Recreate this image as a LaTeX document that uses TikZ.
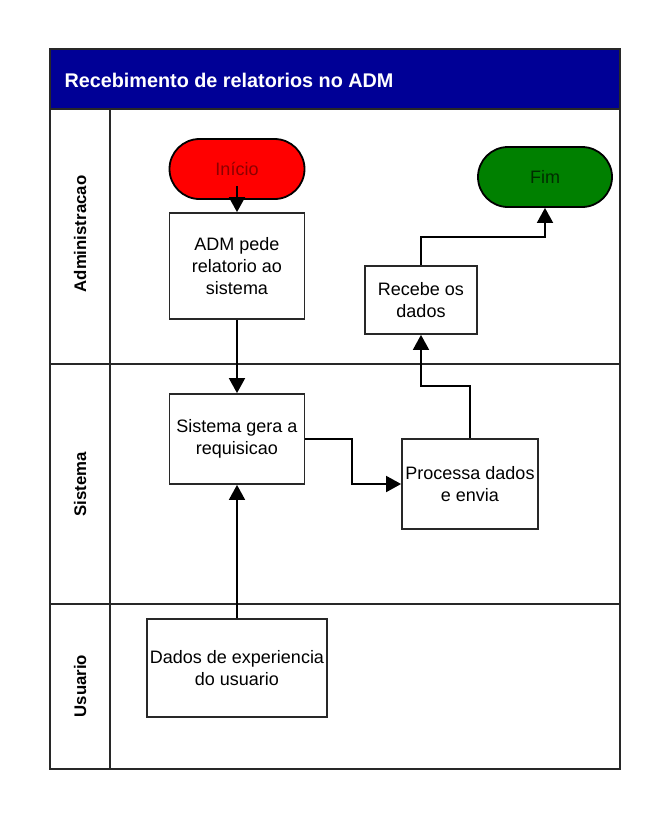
\documentclass[tikz,border=0pt]{standalone}
\usepackage{fontspec}
\setmainfont{Liberation Sans}
\usetikzlibrary{arrows.meta,shapes.misc}
\definecolor{titleblue}{RGB}{0,0,150}
\definecolor{frameline}{RGB}{40,40,40}
\definecolor{startred}{RGB}{255,0,0}
\definecolor{starttext}{RGB}{140,0,0}
\definecolor{endgreen}{RGB}{0,128,0}
\definecolor{endtext}{RGB}{0,45,0}
\begin{document}
\begin{tikzpicture}[x=1pt,y=-1pt,
  lane/.style={draw=frameline,line width=1.8pt},
  lanelabel/.style={rotate=90,font=\bfseries\fontsize{16.8}{19}\selectfont},
  procbox/.style={draw=frameline,line width=1.8pt,fill=white,align=center,
    inner sep=0pt,font=\fontsize{18}{22}\selectfont},
  terminal/.style={draw=black,line width=1.8pt,rounded rectangle,
    minimum width=135pt,minimum height=60pt,inner sep=0pt,
    font=\fontsize{18}{22}\selectfont},
  flow/.style={line width=1.8pt,draw=black,
    -{Triangle[length=15pt,width=16pt]}}]
\useasboundingbox (0,0) rectangle (670,820);
\fill[white] (0,0) rectangle (670,820);

% pool frame, title bar and lanes
\fill[titleblue] (50,49) rectangle (620,109);
\node[anchor=west,text=white,font=\bfseries\fontsize{19.8}{22}\selectfont]
  (title) at (61,80) {Recebimento de relatorios no ADM};
\draw[lane] (50,49) rectangle (620,769);
\draw[lane] (50,109) -- (620,109);
\draw[lane] (50,364) -- (620,364);
\draw[lane] (50,604) -- (620,604);
\draw[lane] (110,109) -- (110,769);
\node[lanelabel] (laneadm) at (80,234) {Administracao};
\node[lanelabel] (lanesis) at (80,484) {Sistema};
\node[lanelabel] (laneusr) at (80,686) {Usuario};

% steps
\node[terminal,fill=startred,text=starttext] (inicio) at (237,169) {Início};
\node[terminal,fill=endgreen,text=endtext,minimum width=134pt] (fim) at (545,177) {Fim};
\node[procbox,minimum width=135pt,minimum height=106pt] (pede) at (237,266)
  {ADM pede\\relatorio ao\\sistema};
\node[procbox,minimum width=112pt,minimum height=68pt] (recebe) at (421,300)
  {Recebe os\\dados};
\node[procbox,minimum width=135pt,minimum height=90pt] (gera) at (237,439)
  {Sistema gera a\\requisicao};
\node[procbox,minimum width=136pt,minimum height=90pt] (processa) at (470,484)
  {Processa dados\\e envia};
\node[procbox,minimum width=180pt,minimum height=98pt] (dados) at (237,668)
  {Dados de experiencia\\do usuario};

% connectors
\draw[flow] ([yshift=14pt]inicio.south) -- (pede.north);
\draw[flow] (pede.south) -- (gera.north);
\draw[flow] (dados.north) -- (gera.south);
\draw[flow] (gera.east) -- (352,439) -- (352,484) -- (processa.west);
\draw[flow] (processa.north) -- (470,386) -- (421,386) -- (recebe.south);
\draw[flow] (recebe.north) -- (421,237) -- (545,237) -- (fim.south);
\end{tikzpicture}
\end{document}
